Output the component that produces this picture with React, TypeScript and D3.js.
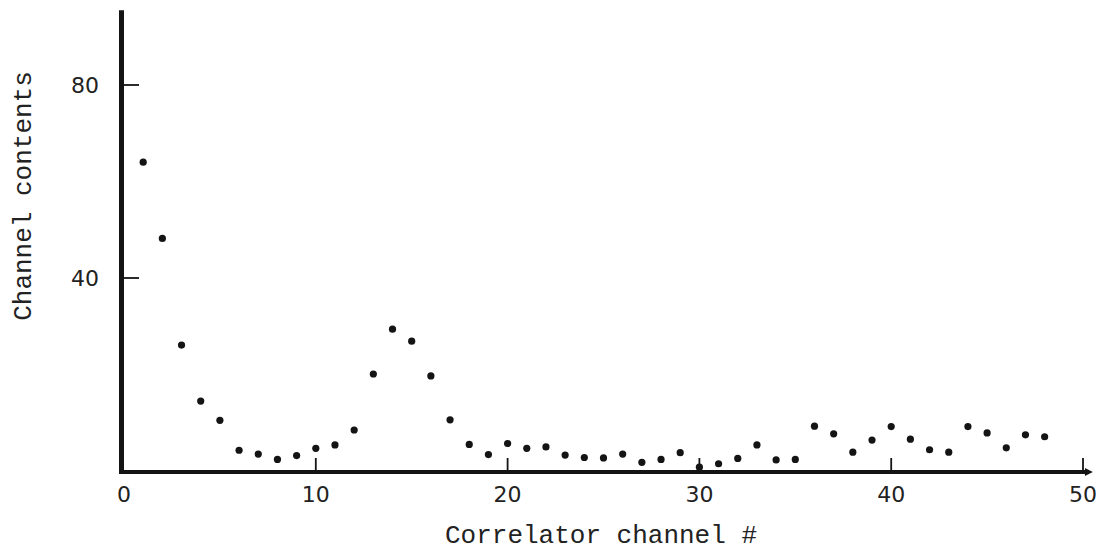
import * as d3 from "d3";
import { useEffect, useRef } from "react";

// correlator channel numbers 1..48 and their read-off contents
const channels = d3.range(1, 49);
const contents = [
  64, 48.2, 26.1, 14.5, 10.5, 4.3, 3.5, 2.4, 3.2, 4.7,
  5.4, 8.5, 20.1, 29.4, 26.9, 19.7, 10.6, 5.5, 3.4, 5.7,
  4.7, 5.0, 3.3, 2.8, 2.7, 3.5, 1.8, 2.4, 3.8, 0.8,
  1.5, 2.6, 5.4, 2.3, 2.4, 9.3, 7.7, 3.9, 6.4, 9.2,
  6.6, 4.4, 3.9, 9.2, 7.9, 4.8, 7.5, 7.1,
];
const xTicks = [0, 10, 20, 30, 40, 50];
const yTicks = [40, 80];

function App() {
  const ref = useRef<SVGSVGElement>(null);
  const width = 1104;
  const height = 553;

  useEffect(() => {
    const svg = d3.select(ref.current);
    svg.selectAll("*").remove();

    const x = d3.scaleLinear().domain([0, 50]).range([124, 1083]);
    const y = d3.scaleLinear().domain([0, 80]).range([471, 85]);
    const ink = "#141414";
    const tickFont = "'DejaVu Sans', sans-serif";
    const titleFont = "'Liberation Mono', 'DejaVu Sans Mono', monospace";

    // axes drawn as heavy hand-ruled lines
    svg
      .append("line")
      .attr("x1", x(0) - 2.5)
      .attr("x2", x(0) - 2.5)
      .attr("y1", y(95.5))
      .attr("y2", y(0) + 3)
      .attr("stroke", ink)
      .attr("stroke-width", 5);

    svg
      .append("line")
      .attr("x1", x(0) - 5)
      .attr("x2", x(50.2))
      .attr("y1", y(0) + 1)
      .attr("y2", y(0) + 1)
      .attr("stroke", ink)
      .attr("stroke-width", 4);

    svg
      .append("path")
      .attr(
        "d",
        `M${x(50.1)},${y(0) - 3} L${x(50.2) + 6},${y(0) + 1} L${x(50.1)},${y(0) + 5} Z`
      )
      .attr("fill", ink);

    // x ticks point up into the plot
    svg
      .selectAll(".xtick")
      .data(xTicks.filter((d) => d > 0))
      .join("line")
      .attr("x1", (d) => x(d))
      .attr("x2", (d) => x(d))
      .attr("y1", y(0))
      .attr("y2", y(0) - 13)
      .attr("stroke", ink)
      .attr("stroke-width", 1.8);

    svg
      .selectAll(".xlabel")
      .data(xTicks)
      .join("text")
      .attr("x", (d) => x(d))
      .attr("y", y(0) + 31)
      .attr("text-anchor", "middle")
      .attr("font-family", tickFont)
      .attr("font-size", 22)
      .attr("fill", "#222")
      .text((d) => d);

    // y ticks point right into the plot
    svg
      .selectAll(".ytick")
      .data(yTicks)
      .join("line")
      .attr("x1", x(0) - 2.5)
      .attr("x2", x(0) + 15)
      .attr("y1", (d) => y(d))
      .attr("y2", (d) => y(d))
      .attr("stroke", ink)
      .attr("stroke-width", 1.8);

    svg
      .selectAll(".ylabel")
      .data(yTicks)
      .join("text")
      .attr("x", x(0) - 25)
      .attr("y", (d) => y(d) + 8)
      .attr("text-anchor", "end")
      .attr("font-family", tickFont)
      .attr("font-size", 22)
      .attr("fill", "#222")
      .text((d) => d);

    // the data dots
    svg
      .selectAll(".dot")
      .data(channels)
      .join("circle")
      .attr("cx", (d) => x(d))
      .attr("cy", (_, i) => y(contents[i]))
      .attr("r", 3.6)
      .attr("fill", ink);

    svg
      .append("text")
      .attr("x", 601)
      .attr("y", 543)
      .attr("text-anchor", "middle")
      .attr("font-family", titleFont)
      .attr("font-size", 26)
      .attr("fill", "#222")
      .text("Correlator channel #");

    svg
      .append("text")
      .attr("transform", `translate(31, 196) rotate(-90)`)
      .attr("text-anchor", "middle")
      .attr("font-family", titleFont)
      .attr("font-size", 26)
      .attr("fill", "#222")
      .text("Channel contents");
  }, []);

  return (
    <svg
      ref={ref}
      width={width}
      height={height}
      viewBox={`0 0 ${width} ${height}`}
      style={{ position: "absolute", left: 0, top: 0, background: "#fff" }}
    />
  );
}

export default App;
